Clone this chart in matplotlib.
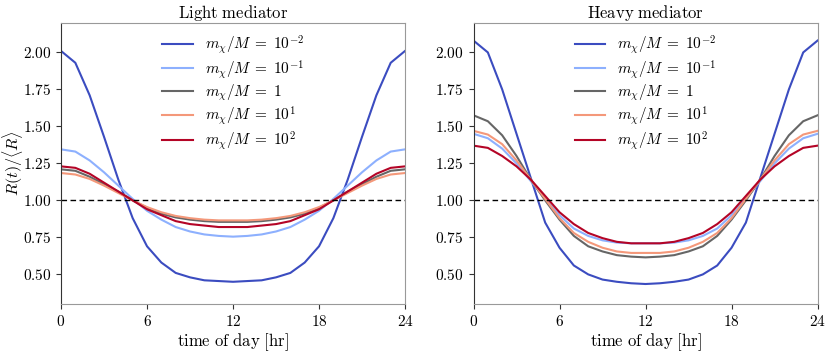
import numpy as np
import matplotlib
matplotlib.use("Agg")
import matplotlib.pyplot as plt
from matplotlib.ticker import FuncFormatter

plt.rcParams['mathtext.fontset'] = 'cm'
plt.rcParams['font.family'] = ['DejaVu Serif']

hours = np.arange(0, 25)
x_ticks = [0, 6, 12, 18, 24]
y_ticks = [0.50, 0.75, 1.00, 1.25, 1.50, 1.75, 2.00]
labels = [r'$m_\chi/M\;=\;10^{-2}$', r'$m_\chi/M\;=\;10^{-1}$', r'$m_\chi/M\;=\;1$',
          r'$m_\chi/M\;=\;10^{1}$', r'$m_\chi/M\;=\;10^{2}$']
colors = ['#3b4cc0', '#8db0fe', '#666666', '#f4987a', '#b40426']
titles = ['Light mediator', 'Heavy mediator']

def sym(half):
    half = list(half)
    return half + half[-2::-1]

# values for hours 0..12 (curves are symmetric about noon)
light_m2 = sym([2.01, 1.93, 1.71, 1.43, 1.14, 0.88, 0.69, 0.58, 0.51, 0.48, 0.46, 0.455, 0.45])
light_m1 = sym([1.345, 1.33, 1.27, 1.19, 1.10, 1.01, 0.93, 0.87, 0.82, 0.79, 0.77, 0.76, 0.755])
light_0 = sym([1.21, 1.20, 1.16, 1.11, 1.06, 1.00, 0.95, 0.91, 0.885, 0.87, 0.86, 0.855, 0.855])
light_1 = sym([1.185, 1.175, 1.145, 1.10, 1.05, 1.00, 0.955, 0.92, 0.895, 0.88, 0.87, 0.865, 0.865])
light_2 = sym([1.23, 1.22, 1.18, 1.12, 1.06, 1.00, 0.94, 0.90, 0.86, 0.84, 0.83, 0.82, 0.82])

heavy_m2 = sym([2.08, 2.00, 1.75, 1.45, 1.15, 0.85, 0.68, 0.56, 0.50, 0.465, 0.45, 0.44, 0.435])
heavy_m1 = sym([1.45, 1.42, 1.35, 1.25, 1.13, 1.01, 0.90, 0.81, 0.76, 0.73, 0.715, 0.71, 0.71])
heavy_0 = sym([1.575, 1.535, 1.44, 1.30, 1.14, 1.00, 0.87, 0.76, 0.69, 0.655, 0.63, 0.62, 0.615])
heavy_1 = sym([1.47, 1.445, 1.38, 1.27, 1.14, 1.01, 0.88, 0.78, 0.72, 0.68, 0.655, 0.645, 0.645])
heavy_2 = sym([1.37, 1.355, 1.30, 1.23, 1.14, 1.03, 0.92, 0.84, 0.78, 0.745, 0.72, 0.71, 0.71])

panels = [
    [light_m2, light_m1, light_0, light_1, light_2],
    [heavy_m2, heavy_m1, heavy_0, heavy_1, heavy_2],
]

fig = plt.figure(figsize=(8.3, 3.55), dpi=100)
axes = [fig.add_axes([0.0735, 0.1437, 0.4145, 0.792]),
        fig.add_axes([0.5705, 0.1437, 0.4145, 0.792])]

for ax, series, title in zip(axes, panels, titles):
    for s, c, lab in zip(series, colors, labels):
        ax.plot(hours, s, color=c, lw=1.5, label=lab)
    ax.axhline(1.0, color='black', ls='--', lw=1.0, dashes=(4, 2.5))
    ax.set_xlim(0, 24)
    ax.set_ylim(0.3, 2.2)
    ax.set_xticks(x_ticks)
    ax.set_yticks(y_ticks)
    ax.xaxis.set_major_formatter(FuncFormatter(lambda v, p: r'$%d$' % v))
    ax.yaxis.set_major_formatter(FuncFormatter(lambda v, p: r'$%.2f$' % v))
    ax.tick_params(labelsize=11, direction='out', length=3.5, width=0.8, color='#333333')
    for sp in ['top', 'right', 'bottom']:
        ax.spines[sp].set_color('#999999')
    ax.spines['left'].set_color('#333333')
    ax.set_title(r'$\mathrm{%s}$' % title.replace(' ', r'\ '), fontsize=12, pad=3)
    ax.set_xlabel(r'$\mathrm{time\ of\ day\ [hr]}$', fontsize=12, labelpad=2)
    ax.legend(loc='upper center', frameon=False, fontsize=11, handlelength=2.0,
              labelspacing=0.12, handletextpad=0.8, bbox_to_anchor=(0.5, 1.0),
              borderaxespad=0.3)

axes[0].set_ylabel(r'$R(t)/\langle R\rangle$', fontsize=11.5)
axes[0].yaxis.set_label_coords(-0.105, 0.5)

fig.savefig('out.png', dpi=100)
